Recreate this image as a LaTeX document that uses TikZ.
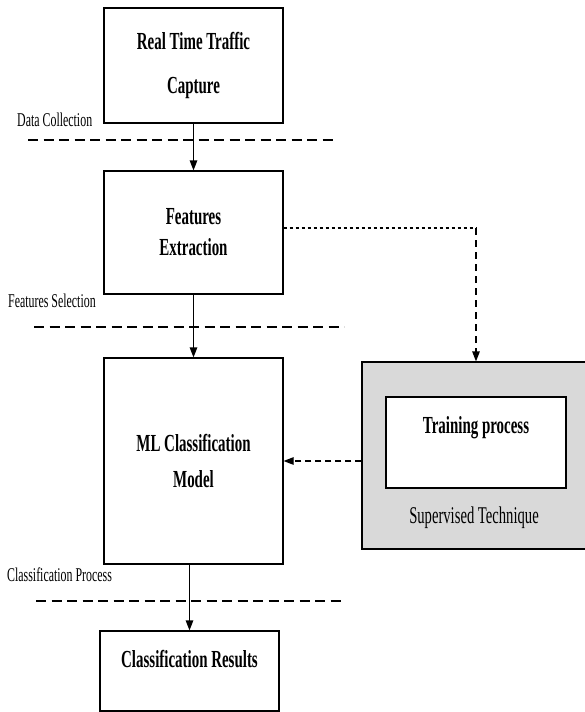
\documentclass[tikz,border=0pt]{standalone}
\usepackage{fontspec}
\setmainfont[FakeStretch=0.61]{Liberation Serif}
\usetikzlibrary{arrows.meta}

\definecolor{panelgray}{RGB}{217,217,217}

\tikzset{
  stagebox/.style={draw, line width=1.2pt, fill=white, align=center, inner sep=0pt,
    minimum width=179pt, font=\bfseries\fontsize{24.5}{29}\selectfont},
  stagelabel/.style={anchor=west, inner sep=0pt, font=\fontsize{19.5}{22}\selectfont},
  stageline/.style={line width=1.3pt, dash pattern=on 10pt off 5.5pt},
  flow/.style={line width=1.2pt, -{Stealth[inset=0pt,length=10pt,width=7.5pt]}},
}

\begin{document}
\begin{tikzpicture}[x=1pt,y=-1pt]
\useasboundingbox (0,0) rectangle (584,712);
% stages of the pipeline
\node[stagebox, minimum height=115pt] (capture) at (193.5,65.5) {Real Time Traffic\\[14.5pt]Capture};
\node[stagebox, minimum height=123pt] (feat) at (193.5,232.5) {Features\\[2pt]Extraction};
\node[stagebox, minimum height=206pt] (model) at (193.5,461) {ML Classification\\[7pt]Model};
\node[stagebox, minimum height=80pt, text height=17pt, text depth=25pt] (results) at (189.5,671) {Classification Results};
% phase labels and dividers
\node[stagelabel] (collect) at (17,120) {Data Collection};
\node[stagelabel] (select) at (8,301) {Features Selection};
\node[stagelabel] (classproc) at (7,575) {Classification Process};
\draw[stageline] (28,140) -- (337,140);
\draw[stageline] (34,327) -- (344,327);
\draw[stageline] (36,601) -- (345,601);
% supervised part
\node[draw, line width=1.2pt, fill=panelgray, inner sep=0pt, minimum width=228pt, minimum height=187pt] (superv) at (476,455.5) {};
\node[stagebox, minimum width=180pt, minimum height=91pt, text height=17pt, text depth=36pt] (train) at (476,442.5) {Training process};
\node[font=\fontsize{24}{28}\selectfont, inner sep=0pt] (supname) at (474,518) {Supervised Technique};
% connectors
\draw[flow] (capture) -- (feat);
\draw[flow] (feat) -- (model);
\draw[flow] (results.north |- model.south) -- (results);
\coordinate (turn) at (476,228);
\draw[line width=1.1pt, dash pattern=on 3pt off 3pt] (feat.east |- turn) -- (turn);
\draw[flow, dash pattern=on 7pt off 5pt] (turn) -- (superv);
\draw[flow, dash pattern=on 6pt off 4pt] (superv.west |- model.east) -- (model.east);
\end{tikzpicture}
\end{document}
